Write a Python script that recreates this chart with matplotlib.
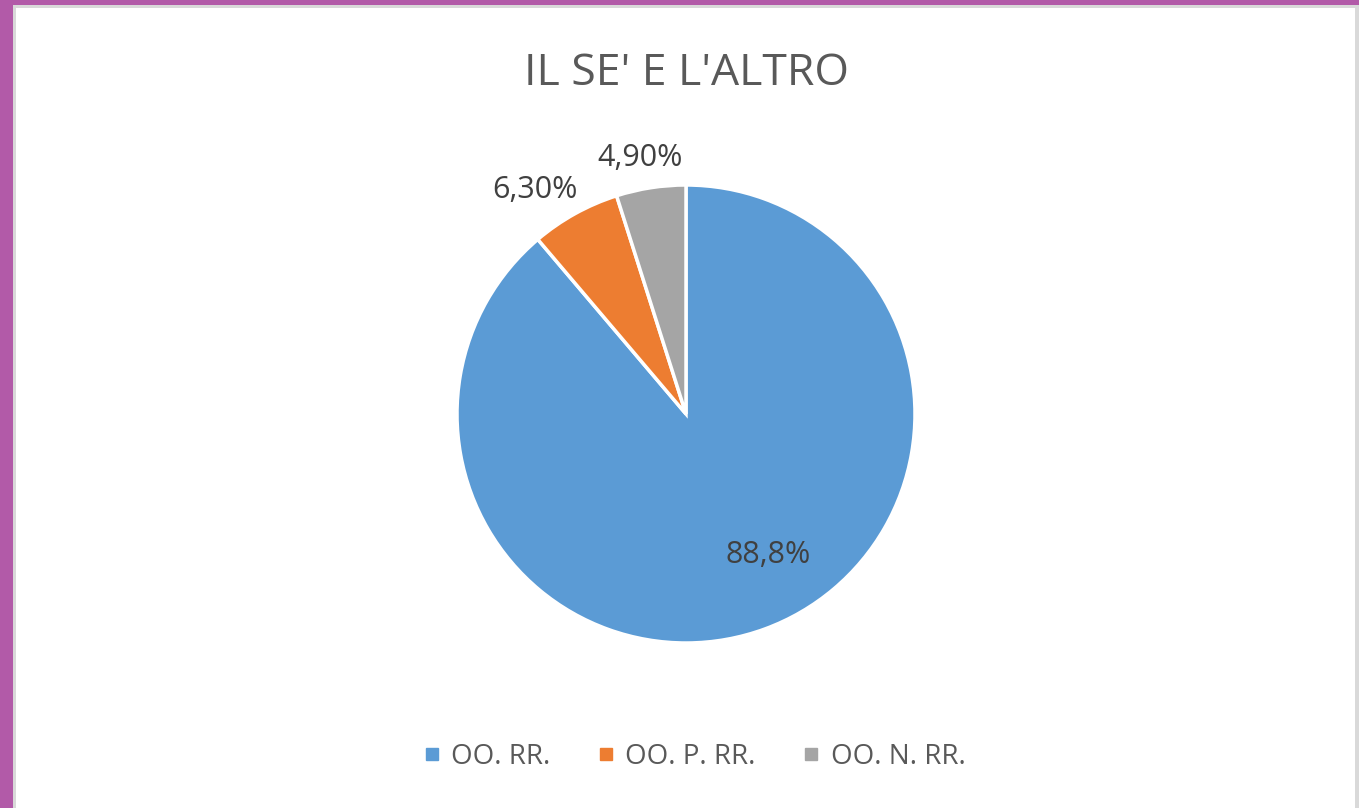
import matplotlib.pyplot as plt
import matplotlib.patches as mpatches
from matplotlib.lines import Line2D

# data
categories = ["OO. RR.", "OO. P. RR.", "OO. N. RR."]
values = [88.8, 6.3, 4.9]
value_labels = ["88,8%", "6,30%", "4,90%"]
colors = ["#5b9bd5", "#ed7d31", "#a5a5a5"]

W, H = 1359, 808
plt.rcParams['font.family'] = ['Open Sans', 'DejaVu Sans']

fig = plt.figure(figsize=(W / 100, H / 100), dpi=100)
fig.patch.set_facecolor("#b25aa8")

# slide frame: gray border + white chart area
fig.patches.append(mpatches.Rectangle((13 / W, 0), (W - 13) / W, (H - 5) / H,
                                      transform=fig.transFigure, facecolor="#d9d9d9",
                                      edgecolor="none", zorder=-10))
fig.patches.append(mpatches.Rectangle((16 / W, 0), (W - 4 - 16) / W, (H - 8) / H,
                                      transform=fig.transFigure, facecolor="white",
                                      edgecolor="none", zorder=-9))

# pie axes (centre 686,414 px, radius 229 px)
cx, cy, r = 686, 414, 229
ax = fig.add_axes([(cx - r) / W, (H - cy - r) / H, 2 * r / W, 2 * r / H])
ax.patch.set_visible(False)
wedges, _ = ax.pie(values, colors=colors, startangle=90, counterclock=False,
                   radius=1.0, wedgeprops=dict(edgecolor="white", linewidth=2.5))
ax.set_xlim(-1, 1)
ax.set_ylim(-1, 1)
ax.set_aspect("equal")
ax.axis("off")

# data labels (Excel best-fit placement)
label_pos = [(0.36, -0.615), (-0.66, 0.98), (-0.20, 1.12)]
for (lx, ly), txt in zip(label_pos, value_labels):
    ax.text(lx, ly, txt, ha="center", va="center", fontsize=22,
            color="#404040", clip_on=False)

fig.text(686 / W, 1 - 74 / H, "IL SE' E L'ALTRO", ha="center", va="center",
         fontsize=32, color="#595959")

handles = [Line2D([0], [0], marker="s", linestyle="none", markersize=8.5,
                  markerfacecolor=c, markeredgecolor=c) for c in colors]
fig.legend(handles, categories, loc="center", bbox_to_anchor=(693 / W, 1 - 757 / H),
           ncol=3, frameon=False, fontsize=20, labelcolor="#595959",
           handletextpad=0.3, columnspacing=1.6, handlelength=0.8)

fig.savefig("out.png", dpi=100)
